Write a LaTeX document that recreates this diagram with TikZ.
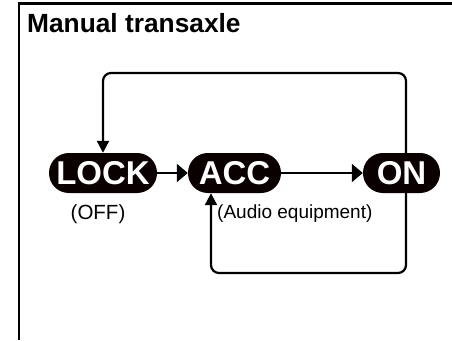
\documentclass[tikz,border=0pt]{standalone}
\usepackage{fontspec}
\setmainfont{Liberation Sans}
\usetikzlibrary{arrows.meta}
\begin{document}
\begin{tikzpicture}[x=1pt,y=-1pt,
  pill/.style={fill=black!90!red!40!black, draw=none, rounded corners=19.9pt, minimum height=40pt, inner sep=0pt,
    text=white, font=\bfseries\fontsize{33}{33}\selectfont},
  conn/.style={line width=2.2pt, draw=black},
  harr/.style={conn, -{Triangle[length=11pt,width=18pt]}},
  varr/.style={conn, -{Triangle[length=12pt,width=12pt]}},
  lbl/.style={inner sep=0pt, font=\fontsize{19}{19}\selectfont}]
\useasboundingbox (0,0) rectangle (452,340);
\fill[white] (0,0) rectangle (452,340);
% frame
\draw[line width=2.6pt] (19,340) -- (19,3.6) -- (452,3.6);
% title
\node[anchor=base west, inner sep=0pt, font=\bfseries\fontsize{26.3}{26}\selectfont] (title) at (27,32) {Manual transaxle};
% loop coordinates
\coordinate (tr) at (406,73);
\coordinate (tl) at (103,73);
\coordinate (br) at (406,273);
\coordinate (bl) at (211,273);
% nodes
\node[pill, minimum width=108pt] (lock) at (103,173) {LOCK};
\node[pill, minimum width=93pt] (acc) at (234.5,173) {ACC};
\node[pill, minimum width=77pt] (on) at (401.5,173) {ON};
\node[lbl, font=\fontsize{20.5}{20}\selectfont] (off) at (98,214) {(OFF)};
\node[lbl, anchor=west] (audio) at (217,214) {(Audio equipment)};
% connectors
\draw[harr] (lock.east) -- (acc.west);
\draw[harr] (acc.east) -- (on.west);
\draw[varr, rounded corners=8pt] (on.north -| tr) -- (tr) -- (tl) -- (lock.north);
\draw[varr, rounded corners=8pt] (on.south -| br) -- (br) -- (bl) -- (acc.south -| bl);
\end{tikzpicture}
\end{document}
